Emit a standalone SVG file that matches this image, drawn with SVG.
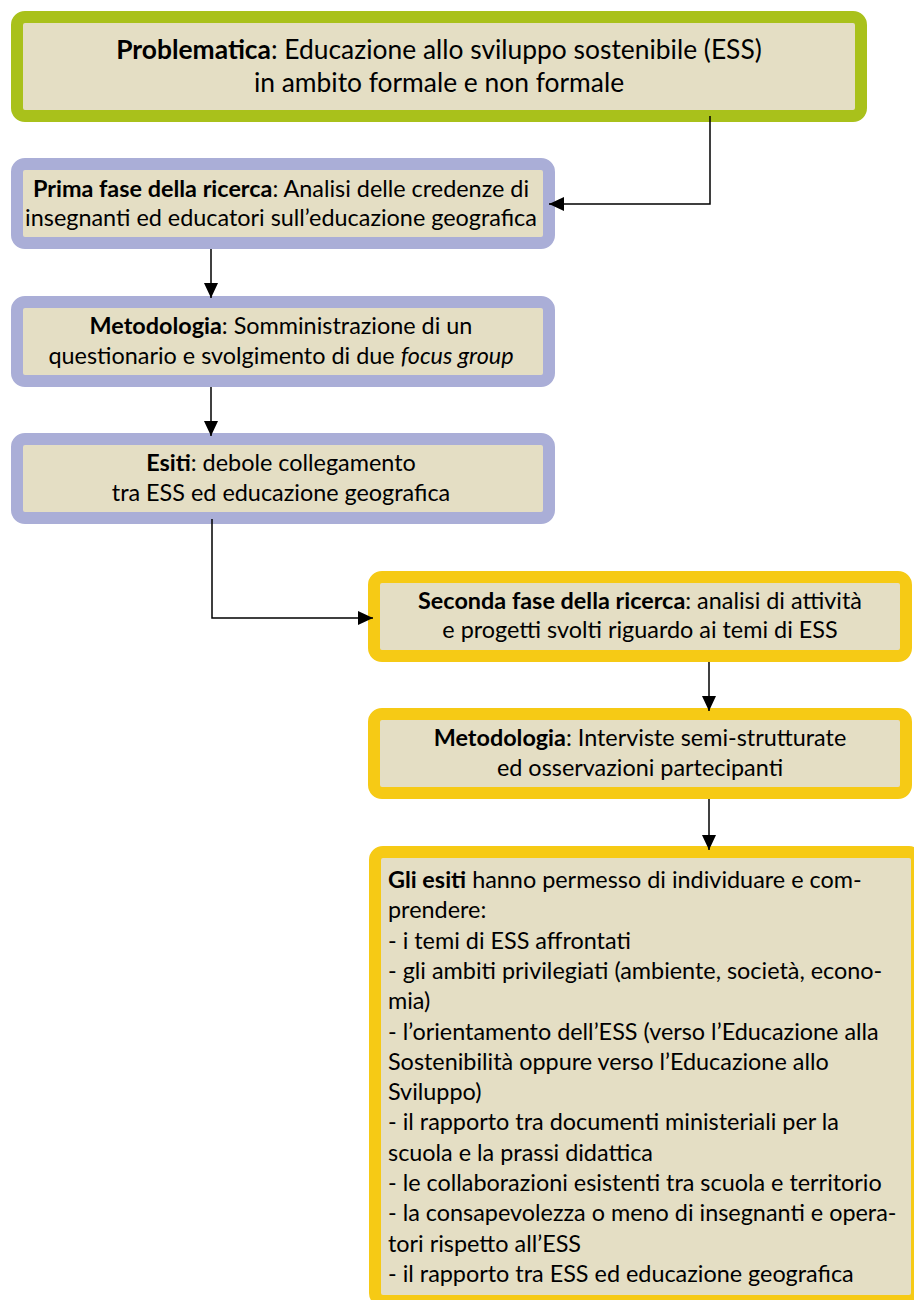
<svg xmlns="http://www.w3.org/2000/svg" width="914" height="1300" viewBox="0 0 914 1300">
  <defs>
    <style>
      .box{fill:#e4dec4;stroke-width:12}
      .green{stroke:#a9c11b}
      .purple{stroke:#aaaed7}
      .yellow{stroke:#f6ca15}
      text{font-family:Lato,"Open Sans",sans-serif;fill:#000;font-size:23.4px}
      .big{font-size:26.4px}
      .b{font-weight:bold}
      .i{font-style:italic}
      .c{text-anchor:middle}
      .conn{fill:none;stroke:#000;stroke-width:1.5}
    </style>
    <marker id="arrow" markerUnits="userSpaceOnUse" markerWidth="16" markerHeight="16" refX="15" refY="7" orient="auto">
      <path d="M0,0 L15,7 L0,14 z" fill="#000"/>
    </marker>
  </defs>

  <rect width="914" height="1300" fill="#fff"/>

  <!-- Nodes -->
  <g id="problematica">
    <rect class="box green" x="17" y="17" width="844" height="99" rx="8"/>
    <text class="big c" x="439" y="59"><tspan class="b">Problematica</tspan>: Educazione allo sviluppo sostenibile (ESS)</text>
    <text class="big c" x="439" y="92">in ambito formale e non formale</text>
  </g>

  <g id="prima-fase">
    <rect class="box purple" x="17" y="164" width="532" height="79" rx="8"/>
    <text class="c" x="281" y="197"><tspan class="b">Prima fase della ricerca</tspan>: Analisi delle credenze di</text>
    <text class="c" x="281" y="226">insegnanti ed educatori sull’educazione geografica</text>
  </g>

  <g id="metodologia-1">
    <rect class="box purple" x="17" y="302" width="532" height="79" rx="8"/>
    <text class="c" x="281" y="334"><tspan class="b">Metodologia</tspan>: Somministrazione di un</text>
    <text class="c" x="281" y="364">questionario e svolgimento di due <tspan class="i">focus group</tspan></text>
  </g>

  <g id="esiti-1">
    <rect class="box purple" x="17" y="439" width="532" height="79" rx="8"/>
    <text class="c" x="281" y="471"><tspan class="b">Esiti</tspan>: debole collegamento</text>
    <text class="c" x="281" y="501">tra ESS ed educazione geografica</text>
  </g>

  <g id="seconda-fase">
    <rect class="box yellow" x="374" y="577" width="532" height="79" rx="8"/>
    <text class="c" x="640" y="609"><tspan class="b">Seconda fase della ricerca</tspan>: analisi di attività</text>
    <text class="c" x="640" y="638">e progetti svolti riguardo ai temi di ESS</text>
  </g>

  <g id="metodologia-2">
    <rect class="box yellow" x="374" y="714" width="532" height="79" rx="8"/>
    <text class="c" x="640" y="746"><tspan class="b">Metodologia</tspan>: Interviste semi-strutturate</text>
    <text class="c" x="640" y="776">ed osservazioni partecipanti</text>
  </g>

  <g id="esiti-2">
    <rect class="box yellow" x="375" y="852" width="542" height="449" rx="8"/>
    <text x="388" y="888"><tspan class="b">Gli esiti</tspan> hanno permesso di individuare e com-</text>
    <text x="388" y="918">prendere:</text>
    <text x="388" y="949">- i temi di ESS affrontati</text>
    <text x="388" y="979">- gli ambiti privilegiati (ambiente, società, econo-</text>
    <text x="388" y="1009">mia)</text>
    <text x="388" y="1040">- l’orientamento dell’ESS (verso l’Educazione alla</text>
    <text x="388" y="1070">Sostenibilità oppure verso l’Educazione allo</text>
    <text x="388" y="1100">Sviluppo)</text>
    <text x="388" y="1130">- il rapporto tra documenti ministeriali per la</text>
    <text x="388" y="1161">scuola e la prassi didattica</text>
    <text x="388" y="1191">- le collaborazioni esistenti tra scuola e territorio</text>
    <text x="388" y="1221">- la consapevolezza o meno di insegnanti e opera-</text>
    <text x="388" y="1252">tori rispetto all’ESS</text>
    <text x="388" y="1282">- il rapporto tra ESS ed educazione geografica</text>
  </g>

  <!-- Connectors -->
  <g id="connectors">
    <path class="conn" d="M710,116 V204 H549" marker-end="url(#arrow)"/>
    <path class="conn" d="M211,249 V298" marker-end="url(#arrow)"/>
    <path class="conn" d="M211,387 V436" marker-end="url(#arrow)"/>
    <path class="conn" d="M212,519 V618 H373" marker-end="url(#arrow)"/>
    <path class="conn" d="M709,662 V711" marker-end="url(#arrow)"/>
    <path class="conn" d="M709,799 V850" marker-end="url(#arrow)"/>
  </g>
</svg>
